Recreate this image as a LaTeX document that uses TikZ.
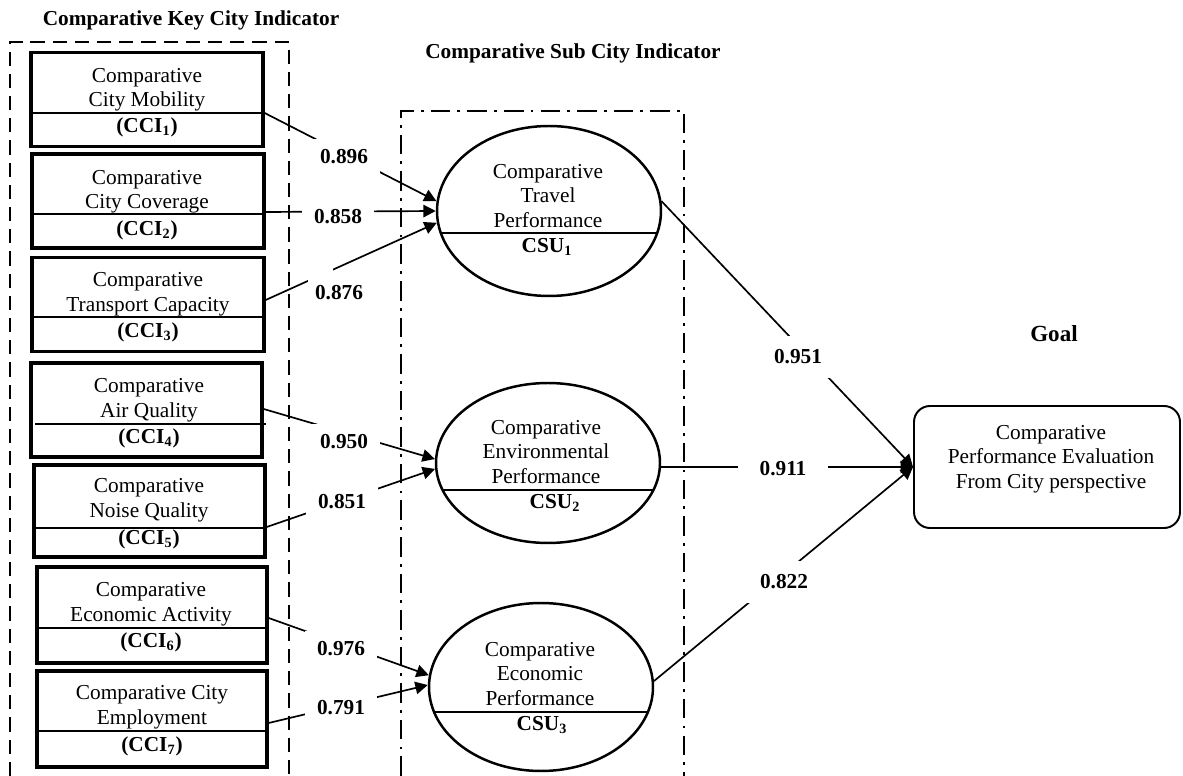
\documentclass[tikz,border=0pt]{standalone}
\usepackage{fontspec}
\setmainfont{Liberation Serif}
\usetikzlibrary{shapes.geometric,arrows.meta}
% one drawing unit
\newcommand\upx{0.5633pt}
\newcommand\diagfont{\fontsize{12}{13.8}\selectfont}

\begin{document}
\begin{tikzpicture}[x=\upx, y=-\upx, font=\diagfont,
  keyframe/.style={line width=1.5pt, dash pattern=on 8pt off 4.5pt},
  subframe/.style={line width=1.5pt, dash pattern=on 11pt off 4pt on 1.6pt off 4pt},
  cbox/.style={draw, line width=1.9pt, minimum width=232*\upx, minimum height=94*\upx, inner sep=0pt},
  divl/.style={line width=1.4pt},
  csu/.style={draw, ellipse, line width=1.4pt, minimum width=224*\upx, inner sep=0pt},
  goalbox/.style={draw, rounded corners=9pt, line width=1.1pt, minimum width=266*\upx, minimum height=122*\upx, inner sep=0pt},
  txt/.style={align=center, inner sep=0pt},
  code/.style={font=\diagfont\bfseries, inner sep=0pt},
  conn/.style={line width=0.95pt},
  arr/.style={conn, -{Triangle[length=7pt,width=7pt]}},
  lab/.style={font=\diagfont\bfseries, fill=white, inner xsep=7pt, inner ysep=6pt},
  labr/.style={lab, inner xsep=12pt, inner ysep=8pt},
  gapfill/.style={fill=white, inner sep=0pt, minimum size=14pt},
  title/.style={font=\diagfont\bfseries, inner sep=0pt}
]
\useasboundingbox (0,0) rectangle (1183,776);

% group frames
\draw[keyframe] (10,776) -- (10,42) -- (289,42) -- (289,776);
\draw[subframe] (401,776) -- (401,111) -- (684,111) -- (684,776);

% titles
\node[title] (ktitle) at (191,20) {Comparative Key City Indicator};
\node[title] (stitle) at (573,53) {Comparative Sub City Indicator};
\node[title, font=\fontsize{13}{15}\selectfont\bfseries] (gtitle) at (1054,334) {Goal};

% key city indicators
\node[cbox] (c1) at (147,99.5) {};
\draw[divl] (c1.west |- 0,113) -- (c1.east |- 0,113);
\node[txt] (c1t) at (147,90) {Comparative\\City Mobility};
\node[code] (c1c) at (147,127) {(CCI\textsubscript{1})};

\node[cbox] (c2) at (148,201) {};
\draw[divl] (c2.west |- 0,214) -- (c2.east |- 0,214);
\node[txt] (c2t) at (147,192) {Comparative\\City Coverage};
\node[code] (c2c) at (147,230) {(CCI\textsubscript{2})};

\node[cbox] (c3) at (148,304.5) {};
\draw[divl] (c3.west |- 0,317) -- (c3.east |- 0,317);
\node[txt] (c3t) at (148,294) {Comparative\\Transport Capacity};
\node[code] (c3c) at (148,332) {(CCI\textsubscript{3})};

\node[cbox, minimum width=231*\upx] (c4) at (146.5,410) {};
\draw[divl] (35,424) -- (266,424);
\node[txt] (c4t) at (149,400) {Comparative\\Air Quality};
\node[code] (c4c) at (149,438) {(CCI\textsubscript{4})};

\node[cbox, minimum width=231*\upx, minimum height=92*\upx] (c5) at (149.5,511) {};
\draw[divl] (c5.west |- 0,528) -- (c5.east |- 0,528);
\node[txt] (c5t) at (149,500) {Comparative\\Noise Quality};
\node[code] (c5c) at (149,539) {(CCI\textsubscript{5})};

\node[cbox, minimum width=230*\upx, minimum height=96*\upx] (c6) at (152,615) {};
\draw[divl] (c6.west |- 0,628) -- (c6.east |- 0,628);
\node[txt] (c6t) at (151,604) {Comparative\\Economic Activity};
\node[code] (c6c) at (151,642) {(CCI\textsubscript{6})};

\node[cbox, minimum width=230*\upx, minimum height=96*\upx] (c7) at (152,719) {};
\draw[divl] (c7.west |- 0,731) -- (c7.east |- 0,731);
\node[txt] (c7t) at (152,707) {Comparative City\\Employment};
\node[code] (c7c) at (152,746) {(CCI\textsubscript{7})};

% sub city indicators
\node[csu, minimum height=170*\upx] (t1) at (549,211) {};
\draw[divl] (441,233) -- (657,233);
\node[txt] (t1t) at (548,196) {Comparative\\Travel\\Performance};
\node[code] (t1c) at (547,247) {CSU\textsubscript{1}};

\node[csu, minimum height=160*\upx] (t2) at (548,463) {};
\draw[divl] (443,490) -- (653,490);
\node[txt] (t2t) at (546,452) {Comparative\\Environmental\\Performance};
\node[code] (t2c) at (555,503) {CSU\textsubscript{2}};

\node[csu, minimum height=168*\upx] (t3) at (541,687) {};
\draw[divl] (434,712) -- (648,712);
\node[txt] (t3t) at (540,674) {Comparative\\Economic\\Performance};
\node[code] (t3c) at (542,725) {CSU\textsubscript{3}};

% goal
\node[goalbox] (g) at (1047,467) {};
\node[txt] (gt) at (1051,459) {Comparative\\Performance Evaluation\\From City perspective};

% loadings
\draw[arr] (c1.east |- 0,113) -- (t1.175);
\draw[arr] (c2.east |- 0,212) -- (t1.180);
\draw[arr] (c3.east |- 0,300) -- node[gapfill, pos=0.32] (gap3) {} (t1.186);
\draw[arr] (c4.east |- 0,409) -- (t2.178);
\draw[arr] (c5.east |- 0,527) -- (t2.183);
\draw[arr] (c6.east |- 0,618) -- (t3.174);
\draw[arr] (c7.east |- 0,723) -- (t3.179);
\draw[arr] (t1.5) -- (g.west);
\draw[arr] (t2.358) -- (g.west);
\draw[arr] (t3.3) -- (g.west);

\node[lab] (l1) at (344,157) {0.896};
\node[lab] (l2) at (338,217) {0.858};
\node[lab, fill=none] (l3) at (339,293) {0.876};
\node[lab] (l4) at (344,442) {0.950};
\node[lab] (l5) at (342,502) {0.851};
\node[lab] (l6) at (341,649) {0.976};
\node[lab] (l7) at (341,708) {0.791};
\node[labr] (r1) at (798,357) {0.951};
\node[labr] (r2) at (783,469) {0.911};
\node[labr] (r3) at (784,582) {0.822};
\end{tikzpicture}
\end{document}
